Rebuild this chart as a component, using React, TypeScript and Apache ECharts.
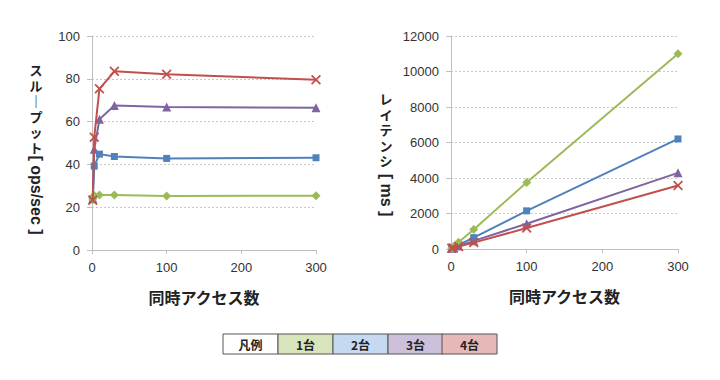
import React, { useEffect, useRef } from 'react';
import * as echarts from 'echarts';

const xValues = [1, 3, 10, 30, 100, 300];
const seriesNames = ['1台', '2台', '3台', '4台'];
const throughput1 = [24.0, 25.5, 25.7, 25.7, 25.2, 25.4];
const throughput2 = [24.0, 39.2, 44.8, 43.7, 42.8, 43.1];
const throughput3 = [24.0, 47.1, 61.1, 67.5, 66.8, 66.5];
const throughput4 = [23.3, 52.7, 75.3, 83.5, 82.1, 79.6];
const latency1 = [40, 120, 380, 1100, 3750, 11000];
const latency2 = [40, 75, 225, 640, 2150, 6200];
const latency3 = [40, 65, 165, 460, 1420, 4290];
const latency4 = [40, 55, 135, 360, 1180, 3580];
const legendTitle = '凡例';
const leftYName = ['ス', 'ル', '｜', 'プ', 'ッ', 'ト'];
const leftYUnit = '[ ops/sec ]';
const rightYName = ['レ', 'イ', 'テ', 'ン', 'シ'];
const rightYUnit = '[ ms ]';
const xName = '同時アクセス数';

const colors = ['#9bbb59', '#4f81bd', '#8064a2', '#c0504d'];
const legendFills = ['#d8e4bc', '#c5d9f1', '#ccc0da', '#e6b8b7'];
const X_PATH = 'path://M1.5,0 L6,4.5 L10.5,0 L12,1.5 L7.5,6 L12,10.5 L10.5,12 L6,7.5 L1.5,12 L0,10.5 L4.5,6 L0,1.5 Z';
const symbols = ['diamond', 'rect', 'triangle', X_PATH];
const symbolSizes = [9, 7, 9, 10];

const throughputs = [throughput1, throughput2, throughput3, throughput4];
const latencies = [latency1, latency2, latency3, latency4];

export default function App() {
  const ref = useRef<HTMLDivElement>(null);
  useEffect(() => {
    if (!ref.current) return;
    const chart = echarts.init(ref.current, null, { renderer: 'svg' });
    const axisLine = { show: true, lineStyle: { color: '#bfbfbf', width: 1 } };
    const axisLabel = { color: '#333', fontSize: 13, fontFamily: 'Liberation Sans, Arial, sans-serif', formatter: (v: number) => String(v) };
    const splitLine = { show: true, lineStyle: { color: '#c8c8c8', type: [2, 2] as any, width: 1 } };
    const xAxisBase = (gridIndex: number) => ({
      type: 'value', gridIndex, min: 0, max: 300, interval: 100,
      axisLine, axisLabel: { ...axisLabel, margin: 11 },
      axisTick: { show: true, length: 4, lineStyle: { color: '#bfbfbf' } },
      splitLine: { show: false },
      name: xName, nameLocation: 'middle', nameGap: 39,
      nameTextStyle: { fontSize: 16, fontWeight: 'bold', color: '#222', fontFamily: 'Noto Sans CJK JP' },
    });
    const series: any[] = [];
    [0, 1].forEach((g) => {
      const sets = g === 0 ? throughputs : latencies;
      sets.forEach((vals, i) => {
        series.push({
          type: 'line', name: seriesNames[i], xAxisIndex: g, yAxisIndex: g,
          data: xValues.map((x, k) => [x, vals[k]]),
          symbol: symbols[i], symbolSize: symbolSizes[i], showSymbol: true,
          lineStyle: { color: colors[i], width: 2 },
          itemStyle: { color: colors[i] },
          z: 10 - i + (i === 3 ? 5 : 0),
        });
      });
    });
    const cellX = [223, 278, 333, 388, 442];
    const cellW = 55;
    const legendLabels = [legendTitle, ...seriesNames];
    const legendFill = ['#ffffff', ...legendFills];
    const graphic: any[] = [];
    legendLabels.forEach((t, i) => {
      graphic.push({
        type: 'rect', shape: { x: cellX[i], y: 334, width: cellW, height: 20 },
        style: { fill: legendFill[i], stroke: '#555', lineWidth: 1 },
      });
      graphic.push({
        type: 'text', x: cellX[i] + cellW / 2, y: 344,
        style: { text: t, fontSize: 12, fontWeight: 'bold', fill: '#222', align: 'center', verticalAlign: 'middle', fontFamily: 'Noto Sans CJK JP' },
      });
    });
    const vTextStyle = { fontSize: 13, lineHeight: 15.5, fontWeight: 'bold', fill: '#222', fontFamily: 'Liberation Sans, Noto Sans CJK JP', align: 'center' };
    graphic.push({ type: 'text', x: 36, y: 63, style: { ...vTextStyle, verticalAlign: 'top', text: leftYName.join('\n') } });
    graphic.push({ type: 'text', x: 36, y: 195, rotation: -Math.PI / 2, style: { ...vTextStyle, verticalAlign: 'middle', lineHeight: 16, fontSize: 16, text: leftYUnit, fontFamily: 'Liberation Sans, Arial' } });
    graphic.push({ type: 'text', x: 386, y: 92, style: { ...vTextStyle, verticalAlign: 'top', text: rightYName.join('\n') } });
    graphic.push({ type: 'text', x: 386, y: 195, rotation: -Math.PI / 2, style: { ...vTextStyle, verticalAlign: 'middle', lineHeight: 16, fontSize: 16, text: rightYUnit, fontFamily: 'Liberation Sans, Arial' } });

    chart.setOption({
      animation: false,
      backgroundColor: '#ffffff',
      grid: [
        { left: 92, right: 404, top: 36, bottom: 130 },
        { left: 451, right: 42, top: 36, bottom: 131 },
      ],
      xAxis: [xAxisBase(0), xAxisBase(1)],
      yAxis: [
        { type: 'value', gridIndex: 0, min: 0, max: 100, interval: 20, axisLine, axisLabel: { ...axisLabel, margin: 12 },
          axisTick: { show: true, length: 5, lineStyle: { color: '#bfbfbf' } }, splitLine },
        { type: 'value', gridIndex: 1, min: 0, max: 12000, interval: 2000, axisLine, axisLabel: { ...axisLabel, margin: 12 },
          axisTick: { show: true, length: 5, lineStyle: { color: '#bfbfbf' } }, splitLine },
      ],
      series,
      graphic,
    });
    return () => chart.dispose();
  }, []);
  return <div ref={ref} style={{ position: 'fixed', left: 0, top: 0, width: 720, height: 380, background: '#fff' }} />;
}
